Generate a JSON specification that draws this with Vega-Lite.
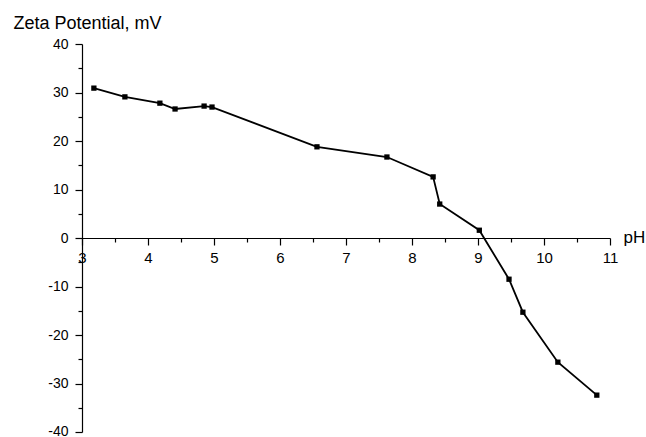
{
  "$schema": "https://vega.github.io/schema/vega-lite/v6.json",
  "width": 528,
  "height": 388,
  "autosize": "none",
  "padding": {"left": 82, "top": 44, "right": 36, "bottom": 5},
  "background": "white",
  "config": {
    "view": {"stroke": null},
    "font": "Liberation Sans",
    "axis": {"grid": false, "domainColor": "black", "tickColor": "black", "labelColor": "black", "titleColor": "black", "labelFont": "Liberation Sans", "titleFont": "Liberation Sans", "labelFontSize": 15, "titleFontWeight": "normal", "domainWidth": 1.2, "tickWidth": 1.2}
  },
  "data": {
    "values": [
      {"pH": 3.18, "zeta": 30.9},
      {"pH": 3.65, "zeta": 29.1},
      {"pH": 4.18, "zeta": 27.8},
      {"pH": 4.41, "zeta": 26.6},
      {"pH": 4.85, "zeta": 27.2},
      {"pH": 4.97, "zeta": 27.0},
      {"pH": 6.56, "zeta": 18.8},
      {"pH": 7.62, "zeta": 16.7},
      {"pH": 8.32, "zeta": 12.6},
      {"pH": 8.42, "zeta": 7.0},
      {"pH": 9.02, "zeta": 1.6},
      {"pH": 9.47, "zeta": -8.5},
      {"pH": 9.68, "zeta": -15.3},
      {"pH": 10.21, "zeta": -25.6},
      {"pH": 10.8, "zeta": -32.4}
    ]
  },
  "encoding": {
    "x": {
      "field": "pH", "type": "quantitative",
      "scale": {"domain": [3, 11], "nice": false, "zero": false},
      "axis": {
        "orient": "bottom", "offset": -194,
        "values": [3, 3.5, 4, 4.5, 5, 5.5, 6, 6.5, 7, 7.5, 8, 8.5, 9, 9.5, 10, 10.5, 11],
        "tickSize": {"condition": {"test": "datum.value % 1 === 0", "value": 7}, "value": 4},
        "labelExpr": "datum.value % 1 === 0 ? '' + datum.value : ''",
        "labelPadding": 5, "labelFlush": false, "labelOverlap": false,
        "title": "pH", "titleFontSize": 17, "titleX": 541, "titleY": 4,
        "titleAlign": "left", "titleBaseline": "alphabetic", "titleAngle": 0
      }
    },
    "y": {
      "field": "zeta", "type": "quantitative",
      "scale": {"domain": [-40, 40], "nice": false, "zero": false},
      "axis": {
        "orient": "left",
        "values": [-40, -35, -30, -25, -20, -15, -10, -5, 0, 5, 10, 15, 20, 25, 30, 35, 40],
        "tickSize": {"condition": {"test": "datum.value % 10 === 0", "value": 7}, "value": 4},
        "labelExpr": "datum.value % 10 === 0 ? '' + datum.value : ''",
        "labelFontSize": 14,
        "labelOffset": {"condition": {"test": "datum.value === -40", "value": -1}, "value": 0},
        "labelPadding": 7, "labelFlush": false, "labelOverlap": false,
        "title": "Zeta Potential, mV", "titleFontSize": 18, "titleX": -69, "titleY": -16,
        "titleAlign": "left", "titleBaseline": "alphabetic", "titleAngle": 0
      }
    }
  },
  "layer": [
    {"mark": {"type": "line", "color": "black", "strokeWidth": 1.8}},
    {"mark": {"type": "point", "shape": "square", "filled": true, "color": "black", "size": 28, "opacity": 1}}
  ]
}
